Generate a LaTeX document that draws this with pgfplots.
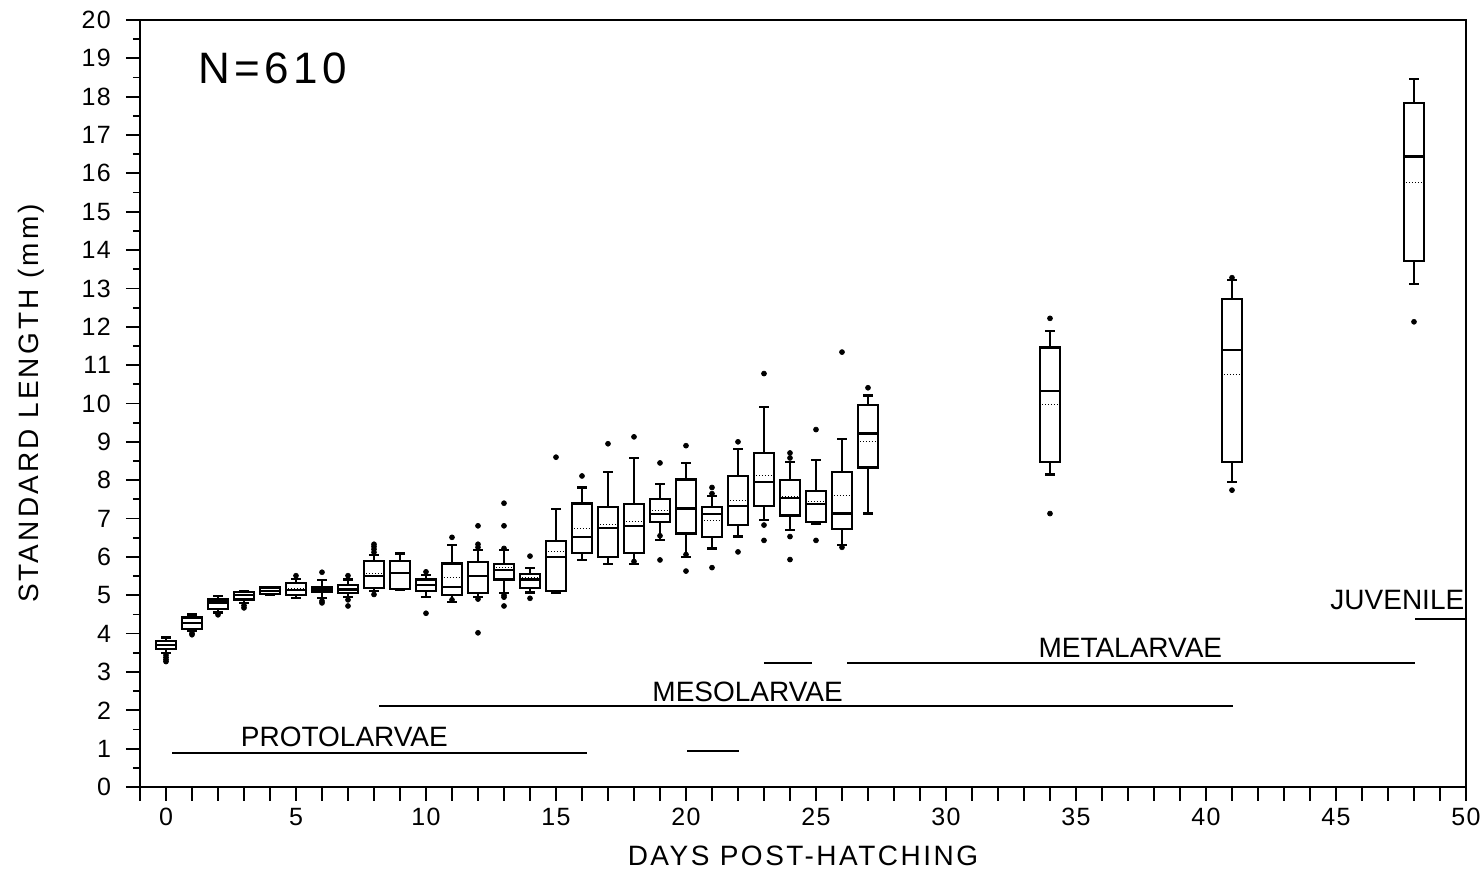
\documentclass[border=0pt]{standalone}
\usepackage{fontspec}
\setmainfont{Liberation Sans}
\usepackage{pgfplots}
\pgfplotsset{compat=1.18}
\usepgfplotslibrary{statistics}

% draw position, lower whisker, lower quartile, median, upper quartile, upper whisker, mean
\newcommand{\bp}[7]{\addplot[bxs, boxplot prepared={draw position=#1, lower whisker=#2, lower quartile=#3, median=#4, upper quartile=#5, upper whisker=#6, average=#7}]}

\begin{document}
\begin{tikzpicture}
\path[use as bounding box] (-70pt,-44.5pt) rectangle (672pt,393.5pt);
\begin{axis}[at={(0,0)}, anchor=south west,
 width=663pt, height=383.5pt, scale only axis,
 xmin=-1, xmax=50, ymin=0, ymax=20,
 xtick={-1,0,...,50},
 xticklabels={{},0,{},{},{},{},5,{},{},{},{},10,{},{},{},{},15,{},{},{},{},20,{},{},{},{},25,{},{},{},{},30,{},{},{},{},35,{},{},{},{},40,{},{},{},{},45,{},{},{},{},50},
 ytick={0,1,...,20}, minor y tick num=1,
 tick align=outside, xtick pos=bottom, ytick pos=left,
 major tick length=7pt, minor tick length=3.5pt,
 axis line style={line width=1pt},
 every tick/.style={black, line width=0.9pt},
 every tick label/.append style={font=\fontsize{12.5}{14}\selectfont\addfontfeatures{LetterSpace=6}},
 yticklabel style={xshift=-4pt},
 /pgf/number format/assume math mode=true,
 xlabel={DAYS POST-HATCHING}, ylabel={STANDARD LENGTH (mm)},
 every axis x label/.style={at={(axis description cs:0.5,-0.09)}, anchor=center, font=\fontsize{14}{16}\selectfont\addfontfeatures{LetterSpace=9}},
 every axis y label/.style={at={(axis description cs:-0.082,0.5)}, rotate=90, anchor=center, font=\fontsize{14}{16}\selectfont\addfontfeatures{LetterSpace=11}},
 bxs/.style={black, line width=1.1pt, mark=*, mark size=1.25pt, mark options={solid, line width=0.3pt, fill=black}},
 boxplot/draw direction=y,
 boxplot/box extend=0.77, boxplot/whisker extend=0.35,
 boxplot/draw/average/.code={\draw[densely dotted, line width=0.5pt] (boxplot box cs:\pgfplotsboxplotvalue{average},0.1) -- (boxplot box cs:\pgfplotsboxplotvalue{average},0.9);},
]

\bp{0}{3.50}{3.59}{3.70}{3.81}{3.90}{3.68} table[row sep=\\,y index=0]{o\\3.44\\3.38\\3.32\\3.27\\};
\bp{1}{4.07}{4.13}{4.28}{4.42}{4.50}{4.30} table[row sep=\\,y index=0]{o\\4.01\\3.97\\};
\bp{2}{4.55}{4.65}{4.81}{4.89}{4.99}{4.78} table[row sep=\\,y index=0]{o\\4.49\\};
\bp{3}{4.80}{4.89}{5.01}{5.09}{5.12}{4.99} table[row sep=\\,y index=0]{o\\4.73\\4.67\\};
\bp{4}{5.01}{5.04}{5.11}{5.20}{5.20}{5.12} coordinates {};
\bp{5}{4.92}{5.01}{5.14}{5.31}{5.42}{5.17} table[row sep=\\,y index=0]{o\\5.51\\};
\bp{6}{4.92}{5.09}{5.15}{5.21}{5.40}{5.16} table[row sep=\\,y index=0]{o\\5.60\\4.85\\4.80\\};
\bp{7}{4.95}{5.05}{5.15}{5.27}{5.41}{5.14} table[row sep=\\,y index=0]{o\\5.51\\4.88\\4.72\\};
\bp{8}{5.12}{5.18}{5.50}{5.90}{6.05}{5.57} table[row sep=\\,y index=0]{o\\6.12\\6.20\\6.27\\6.33\\5.02\\};
\bp{9}{5.14}{5.16}{5.57}{5.90}{6.09}{5.60} coordinates {};
\bp{10}{4.96}{5.11}{5.26}{5.41}{5.53}{5.28} table[row sep=\\,y index=0]{o\\5.61\\4.53\\};
\bp{11}{4.83}{5.01}{5.21}{5.83}{6.31}{5.46} table[row sep=\\,y index=0]{o\\6.51\\4.88\\};
\bp{12}{4.95}{5.05}{5.50}{5.87}{6.18}{5.52} table[row sep=\\,y index=0]{o\\6.25\\6.33\\6.81\\4.90\\4.02\\};
\bp{13}{5.05}{5.41}{5.65}{5.81}{6.19}{5.72} table[row sep=\\,y index=0]{o\\6.22\\6.81\\7.40\\5.00\\4.95\\4.72\\};
\bp{14}{5.07}{5.18}{5.41}{5.55}{5.70}{5.45} table[row sep=\\,y index=0]{o\\6.02\\4.92\\};
\bp{15}{5.05}{5.11}{6.00}{6.41}{7.25}{6.15} table[row sep=\\,y index=0]{o\\8.60\\};
\bp{16}{5.92}{6.11}{6.51}{7.39}{7.81}{6.74} table[row sep=\\,y index=0]{o\\8.11\\};
\bp{17}{5.81}{6.00}{6.76}{7.30}{8.21}{6.85} table[row sep=\\,y index=0]{o\\8.95\\};
\bp{18}{5.81}{6.11}{6.81}{7.37}{8.58}{6.92} table[row sep=\\,y index=0]{o\\9.13\\5.88\\};
\bp{19}{6.44}{6.90}{7.11}{7.50}{7.90}{7.20} table[row sep=\\,y index=0]{o\\8.45\\6.55\\5.92\\};
\bp{20}{6.00}{6.61}{7.26}{8.02}{8.44}{7.30} table[row sep=\\,y index=0]{o\\8.90\\6.06\\5.63\\};
\bp{21}{6.22}{6.52}{7.11}{7.30}{7.59}{6.96} table[row sep=\\,y index=0]{o\\7.81\\7.65\\5.72\\};
\bp{22}{6.53}{6.83}{7.33}{8.11}{8.81}{7.46} table[row sep=\\,y index=0]{o\\9.00\\6.13\\};
\bp{23}{6.97}{7.33}{7.96}{8.71}{9.90}{8.11} table[row sep=\\,y index=0]{o\\10.78\\6.83\\6.43\\};
\bp{24}{6.70}{7.08}{7.54}{8.01}{8.48}{7.58} table[row sep=\\,y index=0]{o\\8.58\\8.71\\6.53\\5.93\\};
\bp{25}{6.86}{6.92}{7.38}{7.72}{8.53}{7.44} table[row sep=\\,y index=0]{o\\9.32\\6.43\\};
\bp{26}{6.31}{6.73}{7.13}{8.22}{9.08}{7.59} table[row sep=\\,y index=0]{o\\11.34\\6.25\\};
\bp{27}{7.13}{8.33}{9.22}{9.96}{10.21}{9.00} table[row sep=\\,y index=0]{o\\10.41\\};
\bp{34}{8.15}{8.48}{10.33}{11.46}{11.90}{9.97} table[row sep=\\,y index=0]{o\\12.22\\7.13\\};
\bp{41}{7.96}{8.48}{11.39}{12.72}{13.22}{10.76} table[row sep=\\,y index=0]{o\\13.28\\7.74\\};
\bp{48}{13.12}{13.72}{16.44}{17.83}{18.46}{15.76} table[row sep=\\,y index=0]{o\\12.13\\};

% developmental stage ranges
\addplot[black, line width=0.9pt] coordinates {(0.24,0.89) (16.2,0.89)};
\addplot[black, line width=0.9pt] coordinates {(20.05,0.93) (22.05,0.93)};
\addplot[black, line width=0.9pt] coordinates {(8.2,2.11) (41.05,2.11)};
\addplot[black, line width=0.9pt] coordinates {(23.0,3.23) (24.85,3.23)};
\addplot[black, line width=0.9pt] coordinates {(26.2,3.23) (48.05,3.23)};
\addplot[black, line width=0.9pt] coordinates {(48.05,4.38) (49.95,4.38)};

\node[font=\fontsize{14}{16}\selectfont] at (axis cs:6.86,1.30) {PROTOLARVAE};
\node[font=\fontsize{14}{16}\selectfont] at (axis cs:22.37,2.48) {MESOLARVAE};
\node[font=\fontsize{14}{16}\selectfont] at (axis cs:37.09,3.62) {METALARVAE};
\node[font=\fontsize{14}{16}\selectfont] at (axis cs:47.36,4.88) {JUVENILE};
\node[font=\fontsize{22}{26}\selectfont\addfontfeatures{LetterSpace=10}] at (axis cs:4.09,18.75) {N=610};
\end{axis}
\end{tikzpicture}
\end{document}
